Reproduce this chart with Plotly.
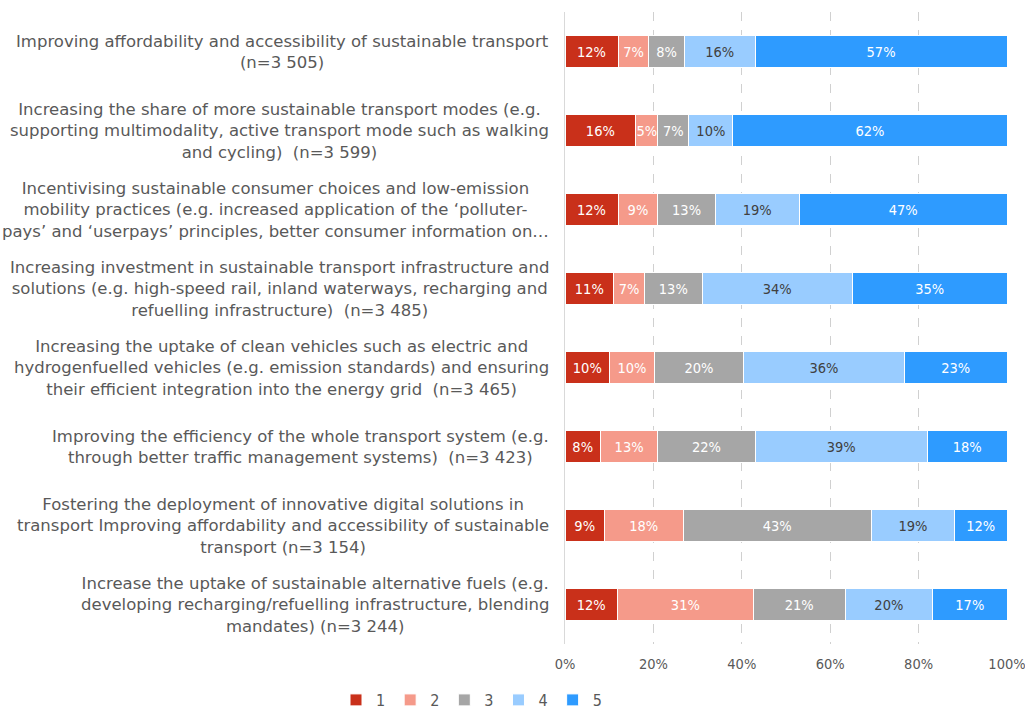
import plotly.graph_objects as go

categories = [
    "Improving affordability and accessibility of sustainable transport<br>(n=3 505)",
    "Increasing the share of more sustainable transport modes (e.g.<br>supporting multimodality, active transport mode such as walking<br>and cycling)  (n=3 599)",
    "Incentivising sustainable consumer choices and low-emission<br>mobility practices (e.g. increased application of the ‘polluter-<br>pays’ and ‘userpays’ principles, better consumer information on…",
    "Increasing investment in sustainable transport infrastructure and<br>solutions (e.g. high-speed rail, inland waterways, recharging and<br>refuelling infrastructure)  (n=3 485)",
    "Increasing the uptake of clean vehicles such as electric and<br>hydrogenfuelled vehicles (e.g. emission standards) and ensuring<br>their efficient integration into the energy grid  (n=3 465)",
    "Improving the efficiency of the whole transport system (e.g.<br>through better traffic management systems)  (n=3 423)",
    "Fostering the deployment of innovative digital solutions in<br>transport Improving affordability and accessibility of sustainable<br>transport (n=3 154)",
    "Increase the uptake of sustainable alternative fuels (e.g.<br>developing recharging/refuelling infrastructure, blending<br>mandates) (n=3 244)",
]
cat_ids = [f"c{i}" for i in range(len(categories))]

series_names = ["1", "2", "3", "4", "5"]
s1 = [12, 16, 12, 11, 10, 8, 9, 12]
s2 = [7, 5, 9, 7, 10, 13, 18, 31]
s3 = [8, 7, 13, 13, 20, 22, 43, 21]
s4 = [16, 10, 19, 34, 36, 39, 19, 20]
s5 = [57, 62, 47, 35, 23, 18, 12, 17]
series_values = [s1, s2, s3, s4, s5]

tick_vals = [0, 20, 40, 60, 80, 100]
tick_text = ["0%", "20%", "40%", "60%", "80%", "100%"]

colors = ["#C9301A", "#F59A8A", "#A6A6A6", "#99CCFF", "#2E9BFF"]
text_colors = ["white", "white", "white", "#404040", "white"]

label_font = "DejaVu Sans, sans-serif"
num_font = "DejaVu Sans Condensed, DejaVu Sans, sans-serif"
grey = "#595959"

fig = go.Figure()
for name, vals, col, tcol in zip(series_names, series_values, colors, text_colors):
    fig.add_trace(go.Bar(
        y=cat_ids, x=vals, name=name, orientation="h",
        marker=dict(color=col, line=dict(color="white", width=1)),
        text=vals, texttemplate="%{text}%", textposition="inside",
        insidetextanchor="middle", textangle=0,
        textfont=dict(color=tcol, size=14.5, family=num_font),
        constraintext="none",
    ))

for cid, label in zip(cat_ids, categories):
    fig.add_annotation(
        x=0, xref="paper", y=cid, yref="y", text=label, showarrow=False,
        xanchor="right", align="center", xshift=-14,
        font=dict(size=16.5, color=grey, family=label_font),
    )

fig.update_layout(
    width=1025, height=711,
    barmode="stack", barnorm="percent", bargap=0.595,
    plot_bgcolor="white", paper_bgcolor="white",
    margin=dict(l=565, r=18, t=12, b=67, autoexpand=False),
    font=dict(family=num_font, color=grey),
    uniformtext=dict(minsize=10, mode="show"),
    xaxis=dict(
        range=[0, 100], tickvals=tick_vals, ticktext=tick_text,
        showgrid=True, gridcolor="#D0D0D0", griddash="dash", gridwidth=1,
        zeroline=False, showline=False, ticklabeloverflow="allow",
        automargin=False,
        tickfont=dict(size=14.5, color=grey), ticklen=0, ticklabelstandoff=9,
    ),
    yaxis=dict(
        categoryorder="array", categoryarray=cat_ids, autorange="reversed",
        showticklabels=False, showgrid=False, zeroline=False, automargin=False,
        showline=True, linecolor="#D9D9D9", linewidth=1,
    ),
    legend=dict(
        orientation="h", xref="container", yref="container",
        x=0.46, xanchor="center", y=11 / 711, yanchor="middle",
        font=dict(size=16, color=grey), traceorder="normal",
        itemwidth=30, entrywidth=0, entrywidthmode="pixels",
    ),
    showlegend=True,
)

fig.write_html("out.html", config={"displayModeBar": False},
               post_script="document.body.style.margin='0px';")
